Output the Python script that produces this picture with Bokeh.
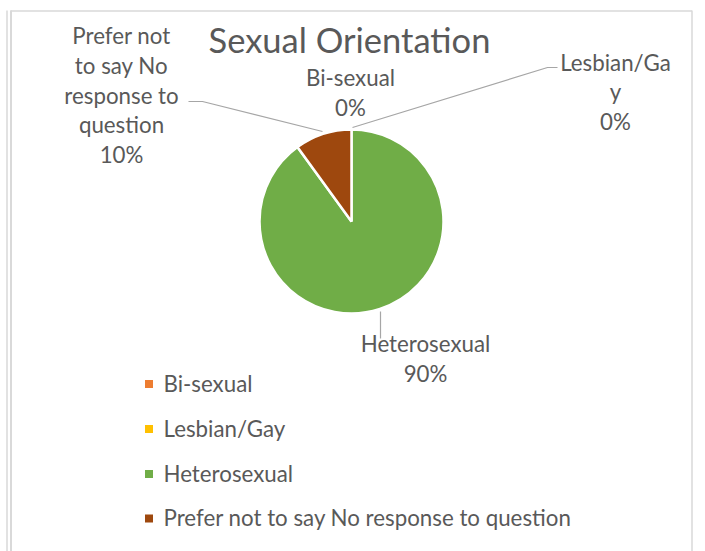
import numpy as np
from bokeh.plotting import figure
from bokeh.models import Range1d
from bokeh.core.properties import value
from bokeh.embed import file_html
from bokeh.resources import INLINE

# ---- data ----
title = "Sexual Orientation"
categories = ["Bi-sexual", "Lesbian/Gay", "Heterosexual", "Prefer not to say No response to question"]
values = [0, 0, 90, 10]
colors = ["#ED7D31", "#FFC000", "#70AD47", "#9E480E"]
# data labels as wrapped by the original chart (category line(s), then percentage)
label_lines = [
    ["Bi-sexual"],
    ["Lesbian/Ga", "y"],
    ["Heterosexual"],
    ["Prefer not", "to say No", "response to", "question"],
]

W, H = 705, 551
FONT = "Lato"
TXT = "#595959"

def X(px):
    return px

def Y(py):
    return H - py

p = figure(width=W, height=H, x_range=Range1d(0, W), y_range=Range1d(0, H),
           output_backend="svg", toolbar_location=None, min_border=0)
p.axis.visible = False
p.grid.visible = False
p.outline_line_color = None
p.background_fill_color = "white"
p.border_fill_color = "white"

# chart frame
fc = "#D9D9D9"
p.line([X(6.5), X(6.5)], [Y(10), Y(551)], line_color=fc, line_width=1.5)
p.line([X(10.5), X(10.5)], [Y(10), Y(551)], line_color=fc, line_width=2)
p.line([X(10), X(691.5)], [Y(10.5), Y(10.5)], line_color=fc, line_width=1.5)
p.line([X(691.5), X(691.5)], [Y(10), Y(551)], line_color=fc, line_width=1.5)

# title
p.text(x=[X(349)], y=[Y(39)], text=[title], text_font=value(FONT), text_font_size="34.5px",
       text_color=TXT, text_align="center", text_baseline="middle")

# pie (Excel style: start at 12 o'clock, clockwise)
cx, cy, r = X(351), Y(221), 92
total = float(sum(values))
fracs = np.array(values) / total
cum = np.concatenate([[0], np.cumsum(fracs)])
starts, ends, cols = [], [], []
for i, f in enumerate(fracs):
    if f <= 0:
        continue
    starts.append(np.pi / 2 - cum[i + 1] * 2 * np.pi)
    ends.append(np.pi / 2 - cum[i] * 2 * np.pi)
    cols.append(colors[i])
p.wedge(x=cx, y=cy, radius=r, start_angle=starts, end_angle=ends, direction="anticlock",
        fill_color=cols, line_color="white", line_width=2.5)

# leader lines
lc = "#A6A6A6"
p.line([X(188), X(202), X(322)], [Y(101), Y(101), Y(131)], line_color=lc, line_width=1.2)
p.line([X(352), X(547), X(557)], [Y(127), Y(67), Y(67)], line_color=lc, line_width=1.2)
p.line([X(380), X(380)], [Y(311), Y(338)], line_color=lc, line_width=1.2)

# data labels
label_pos = [(350, 77), (615, 61.5), (425, 343), (121, 35)]
step = 29.8
lx, ly, lt = [], [], []
for i, lines in enumerate(label_lines):
    pct = "%d%%" % round(100 * fracs[i])
    bx, by = label_pos[i]
    for k, s in enumerate(lines + [pct]):
        lx.append(X(bx))
        ly.append(Y(by + k * step))
        lt.append(s)
p.text(x=lx, y=ly, text=lt, text_font=value(FONT), text_font_size="22.3px",
       text_color=TXT, text_align="center", text_baseline="middle")

# legend
leg_y = [382.5, 427.5, 472.5, 517]
p.rect(x=[X(148.5)] * 4, y=[Y(v + 1) for v in leg_y], width=8, height=8,
       fill_color=colors, line_color=None)
p.text(x=[X(163)] * 4, y=[Y(v) for v in leg_y], text=categories, text_font=value(FONT),
       text_font_size="22.3px", text_color=TXT, text_align="left", text_baseline="middle")

open("out.html", "w").write(file_html(p, INLINE))
